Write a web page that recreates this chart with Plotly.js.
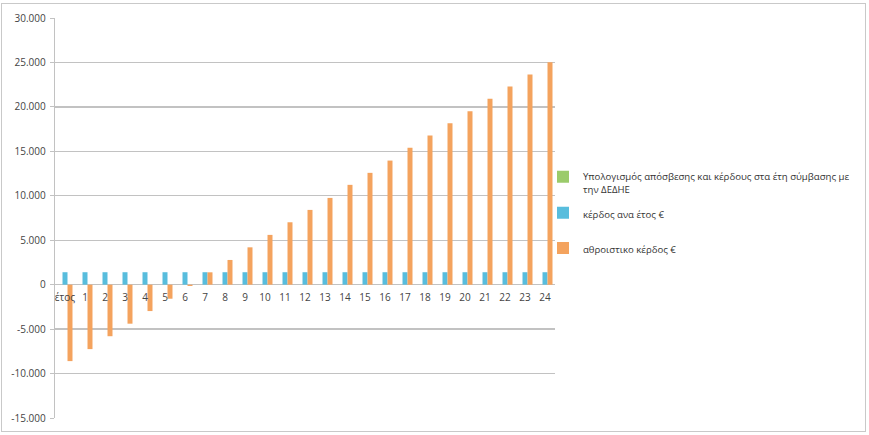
<!DOCTYPE html>
<html>
<head>
<meta charset="utf-8">
<script src="https://cdn.plot.ly/plotly-3.0.1.min.js"></script>
<style>
html,body{margin:0;padding:0;background:#fff;}
#wrap{position:relative;width:869px;height:435px;}
#chart{width:869px;height:435px;}
#frame{position:absolute;left:1px;top:3px;width:863px;height:427px;border:1.5px solid #c9c9c9;pointer-events:none;}
</style>
</head>
<body>
<div id="wrap"><div id="chart"></div><div id="frame"></div></div>
<script>
const categories = ['έτος','1','2','3','4','5','6','7','8','9','10','11','12','13','14','15','16','17','18','19','20','21','22','23','24'];
const seriesNames = ['Υπολογισμός απόσβεσης και κέρδους στα έτη σύμβασης με<br>την ΔΕΔΗΕ', 'κέρδος ανα έτος €', 'αθροιστικο κέρδος €'];
const calcValues = [null,null,null,null,null,null,null,null,null,null,null,null,null,null,null,null,null,null,null,null,null,null,null,null,null];
const yearlyProfit = [1400,1400,1400,1400,1400,1400,1400,1400,1400,1400,1400,1400,1400,1400,1400,1400,1400,1400,1400,1400,1400,1400,1400,1400,1400];
const cumulativeProfit = [-8600,-7250,-5800,-4390,-2970,-1580,-150,1390,2780,4200,5600,7020,8410,9760,11230,12580,13960,15390,16780,18170,19520,20910,22300,23650,25030];
const yTickVals = [-15000,-10000,-5000,0,5000,10000,15000,20000,25000,30000];
const yTickText = ['-15.000','-10.000','-5.000','0','5.000','10.000','15.000','20.000','25.000','30.000'];

const font = {family:'"Open Sans", sans-serif', size:10, color:'#444'};
const traces = [
  {type:'bar', name:seriesNames[0], x:categories, y:calcValues, marker:{color:'#9BCB6A'}, legend:'legend', hoverinfo:'skip'},
  {type:'bar', name:seriesNames[1], x:categories, y:yearlyProfit, marker:{color:'#58BDDD'}, legend:'legend2'},
  {type:'bar', name:seriesNames[2], x:categories, y:cumulativeProfit, marker:{color:'#F4A35E'}, legend:'legend3'}
];
const legBase = {xanchor:'left', yanchor:'top', bgcolor:'rgba(0,0,0,0)', borderwidth:0, font:{family:'"Open Sans", sans-serif', size:9.6, color:'#333'}, valign:'top', itemclick:false, itemdoubleclick:false};
const layout = {
  width:869, height:435,
  margin:{l:55, r:314, t:18, b:17, autoexpand:false},
  paper_bgcolor:'#fff', plot_bgcolor:'#fff',
  font:font,
  barmode:'group', bargap:0.25, bargroupgap:0,
  xaxis:{type:'category', anchor:'free', position:1/3, showline:false, showgrid:false, ticks:'', zeroline:false, tickfont:font, ticklabelstandoff:5, automargin:false, fixedrange:true},
  yaxis:{range:[-15000,30000], tickvals:yTickVals, ticktext:yTickText, showgrid:true, gridcolor:'#c2c2c2', gridwidth:1.3, zeroline:true, zerolinecolor:'#c2c2c2', zerolinewidth:1.3, showline:true, linecolor:'#c2c2c2', linewidth:1.3, ticks:'outside', ticklen:4, tickcolor:'#c2c2c2', tickfont:font, ticklabelstandoff:2, automargin:false, fixedrange:true},
  showlegend:true,
  legend: Object.assign({}, legBase, {x:0.976, y:0.635}),
  legend2: Object.assign({}, legBase, {x:0.976, y:0.545}),
  legend3: Object.assign({}, legBase, {x:0.976, y:0.457})
};
Plotly.newPlot('chart', traces, layout, {displayModeBar:false, staticPlot:true});
</script>
</body>
</html>
